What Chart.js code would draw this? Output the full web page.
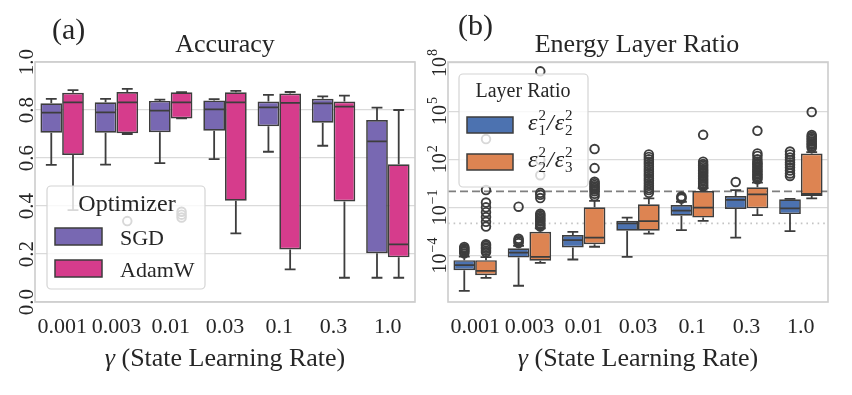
<!DOCTYPE html>
<html>
<head>
<meta charset="utf-8">
<script src="https://cdn.jsdelivr.net/npm/chart.js@4.4.1/dist/chart.umd.min.js"></script>
<style>
  body { margin: 0; background: #fff; width: 852px; height: 395px; position: relative; overflow: hidden; }
  canvas { position: absolute; top: 0; }
</style>
</head>
<body>
<canvas id="accChart" width="426" height="395" style="left:0"></canvas>
<canvas id="energyChart" width="426" height="395" style="left:426px"></canvas>
<script>
// categories
const rates = ["0.001", "0.003", "0.01", "0.03", "0.1", "0.3", "1.0"];

// (a) Accuracy box stats per rate
const sgdLow  = [0.571, 0.572, 0.579, 0.595, 0.626, 0.651, 0.101];
const sgdQ1   = [0.705, 0.705, 0.707, 0.714, 0.732, 0.747, 0.203];
const sgdMed  = [0.789, 0.790, 0.797, 0.803, 0.811, 0.828, 0.669];
const sgdQ3   = [0.828, 0.832, 0.838, 0.840, 0.835, 0.847, 0.758];
const sgdHigh = [0.846, 0.846, 0.843, 0.845, 0.863, 0.857, 0.810];
const sgdOut  = [[], [], [], [], [], [], []];

const adamLow  = [0.383, 0.700, 0.765, 0.286, 0.136, 0.101, 0.101];
const adamQ1   = [0.613, 0.703, 0.765, 0.422, 0.219, 0.419, 0.186];
const adamMed  = [0.832, 0.832, 0.832, 0.832, 0.830, 0.814, 0.240];
const adamQ3   = [0.872, 0.875, 0.874, 0.874, 0.869, 0.835, 0.574];
const adamHigh = [0.883, 0.888, 0.874, 0.880, 0.875, 0.860, 0.800];
const adamOut  = [[], [0.337], [0.352, 0.364, 0.376], [], [], [], []];

const accTicks = [0, 0.2, 0.4, 0.6, 0.8, 1.0];

// (b) Energy layer ratio box stats per rate
const r12Low  = [6.3e-7, 1.3e-6, 5.6e-5, 8.3e-5, 3.8e-3, 1.3e-3, 3.3e-3];
const r12Q1   = [1.2e-5, 7.4e-5, 3.2e-4, 3.5e-3, 3.0e-2, 7.9e-2, 3.8e-2];
const r12Med  = [2.5e-5, 1.5e-4, 9.1e-4, 1.0e-2, 6.2e-2, 0.29, 8.7e-2];
const r12Q3   = [5.1e-5, 2.8e-4, 1.9e-3, 1.45e-2, 0.14, 0.51, 0.32];
const r12High = [8.5e-5, 4.0e-4, 3.0e-3, 2.3e-2, 0.22, 1.2, 0.34];
const r12Out  = [
  [1.35e-4, 1.7e-4, 2.0e-4, 2.4e-4, 2.8e-4, 3.4e-4],
  [6e-4, 7.5e-4, 9e-4, 1.1e-3, 0.11],
  [], [],
  [0.35, 0.42, 0.48],
  [3.8],
  [9, 13, 20, 30, 45, 63, 90, 130, 200, 300]
];

const r23Low  = [4.0e-6, 3.5e-5, 3.5e-4, 2.3e-3, 1.45e-2, 3.3e-2, 0.36];
const r23Q1   = [5.9e-6, 4.7e-5, 5.1e-4, 3.5e-3, 2.3e-2, 8.7e-2, 0.51];
const r23Med  = [1.1e-5, 8.3e-5, 1.3e-3, 1.4e-2, 9.5e-2, 0.65, 0.68];
const r23Q3   = [5.1e-5, 3.0e-3, 0.1, 0.155, 1.05, 1.8, 230];
const r23High = [8.0e-5, 5.0e-3, 0.25, 0.36, 1.6, 3.5, 280];
const r23Out  = [
  [1.6e-4, 2.0e-4, 2.6e-4, 3.2e-4, 4e-4, 5e-4, 6.3e-3, 1.26e-2, 2.5e-2, 5e-2, 0.1, 0.2, 1.2, 1800],
  [6.3e-3, 8e-3, 1e-2, 1.3e-2, 1.6e-2, 2e-2, 2.5e-2, 3.2e-2, 4e-2, 0.38, 0.6, 0.8, 10, 90, 3e7],
  [0.5, 0.7, 1.0, 1.3, 1.6, 2.0, 2.5, 3.2, 4.0, 28, 430],
  [0.8, 1.2, 1.6, 2.2, 3.2, 4.5, 6.3, 9, 12.6, 18, 25, 35, 50, 70, 100, 140, 200],
  [2, 2.5, 3.2, 4, 5, 6.3, 8, 10, 13, 16, 20, 25, 32, 40, 50, 70, 3300],
  [5.6, 7, 9, 11, 14, 18, 22, 28, 36, 45, 56, 70, 100, 160, 230, 5900],
  [500, 650, 800, 1000, 1260, 1600, 2000, 2500, 3200, 87000]
];

const ratioTicks = [1e-4, 1e-1, 1e2, 1e5, 1e8];

const SERIF = "'Liberation Serif', 'Times New Roman', serif";
const TEXT = '#262626';
const EDGE = '#3d3d3d';
const GRID = '#dadada';
const FRAME = '#cccccc';
const SGD_COL = '#7868b2';
const ADAM_COL = '#d63c8c';
const R12_COL = '#4c72b0';
const R23_COL = '#dd8452';

function roundBox(ctx, x, y, w, h, r) {
  ctx.beginPath();
  ctx.moveTo(x + r, y);
  ctx.arcTo(x + w, y, x + w, y + h, r);
  ctx.arcTo(x + w, y + h, x, y + h, r);
  ctx.arcTo(x, y + h, x, y, r);
  ctx.arcTo(x, y, x + w, y, r);
  ctx.closePath();
}

// italic epsilon with stacked sub/superscript, returns the new x
function epsTerm(ctx, x, y, sub, sup) {
  ctx.font = 'italic 24px ' + SERIF;
  ctx.fillText('\u03b5', x, y);
  x += ctx.measureText('\u03b5').width + 1;
  ctx.font = '15px ' + SERIF;
  ctx.fillText(sup, x, y - 10);
  ctx.fillText(sub, x, y + 5);
  return x + ctx.measureText(sup).width;
}

function xTitle(ctx, cx, y) {
  ctx.fillStyle = TEXT;
  ctx.textBaseline = 'alphabetic';
  ctx.textAlign = 'left';
  ctx.font = 'italic 26px ' + SERIF;
  const g = '\u03b3';
  const wg = ctx.measureText(g).width;
  ctx.font = '26px ' + SERIF;
  const rest = ' (State Learning Rate)';
  const wr = ctx.measureText(rest).width;
  const x = cx - (wg + wr) / 2;
  ctx.font = 'italic 26px ' + SERIF;
  ctx.fillText(g, x, y);
  ctx.font = '26px ' + SERIF;
  ctx.fillText(rest, x + wg, y);
}

function boxPlugin(cfg) {
  return {
    id: 'boxes',
    beforeDatasetsDraw(chart) {
      const { ctx, chartArea: a, scales: { y } } = chart;
      (cfg.refLines || []).forEach(r => {
        const py = y.getPixelForValue(r.value);
        ctx.save();
        ctx.strokeStyle = r.color;
        ctx.lineWidth = r.width;
        ctx.setLineDash(r.dash);
        ctx.beginPath();
        ctx.moveTo(a.left, py);
        ctx.lineTo(a.right, py);
        ctx.stroke();
        ctx.restore();
      });
    },
    afterDatasetsDraw(chart) {
      const { ctx, scales: { y } } = chart;
      const py = v => y.getPixelForValue(v);
      cfg.series.forEach((s, di) => {
        chart.getDatasetMeta(di).data.forEach((bar, i) => {
          const x = bar.x, hw = bar.width / 2, cap = bar.width / 4;
          ctx.save();
          ctx.strokeStyle = EDGE;
          ctx.lineWidth = 1.8;
          ctx.beginPath();
          ctx.moveTo(x, py(s.q1[i])); ctx.lineTo(x, py(s.low[i]));
          ctx.moveTo(x - cap, py(s.low[i])); ctx.lineTo(x + cap, py(s.low[i]));
          ctx.moveTo(x, py(s.q3[i])); ctx.lineTo(x, py(s.high[i]));
          ctx.moveTo(x - cap, py(s.high[i])); ctx.lineTo(x + cap, py(s.high[i]));
          ctx.moveTo(x - hw + 1, py(s.med[i])); ctx.lineTo(x + hw - 1, py(s.med[i]));
          ctx.stroke();
          ctx.lineWidth = 1.9;
          s.out[i].forEach(v => {
            ctx.beginPath();
            ctx.arc(x, py(v), 4.3, 0, Math.PI * 2);
            ctx.stroke();
          });
          ctx.restore();
        });
      });
    },
    afterDraw(chart) {
      const { ctx, chartArea: a, scales: { y } } = chart;
      ctx.save();
      ctx.strokeStyle = FRAME;
      ctx.lineWidth = 1.6;
      ctx.strokeRect(a.left, a.top, a.right - a.left, a.bottom - a.top);

      // rotated y tick labels
      ctx.fillStyle = TEXT;
      y.ticks.forEach(t => {
        const py = y.getPixelForValue(t.value);
        ctx.save();
        ctx.translate(cfg.labelX, py);
        ctx.rotate(-Math.PI / 2);
        cfg.tickLabel(ctx, t.value);
        ctx.restore();
      });

      // titles
      ctx.fillStyle = TEXT;
      ctx.textBaseline = 'alphabetic';
      ctx.textAlign = 'center';
      ctx.font = '26px ' + SERIF;
      ctx.fillText(cfg.title, cfg.titleX, 52);
      ctx.textAlign = 'left';
      ctx.font = '30px ' + SERIF;
      ctx.fillText(cfg.panel, cfg.panelX, cfg.panelY);
      xTitle(ctx, (a.left + a.right) / 2, 366);

      cfg.legend(ctx);
      ctx.restore();
    }
  };
}

function floating(lo, hi) {
  return lo.map((v, i) => [v, hi[i]]);
}

function barSet(label, lo, hi, color) {
  return {
    label: label,
    data: floating(lo, hi),
    backgroundColor: color,
    borderColor: EDGE,
    borderWidth: 1.7,
    borderSkipped: false,
    barPercentage: 1,
    categoryPercentage: 0.8
  };
}

function xAxis() {
  return {
    grid: { display: false, drawTicks: false },
    border: { display: false },
    ticks: { font: { family: SERIF, size: 22 }, color: TEXT, padding: 12, maxRotation: 0, autoSkip: false },
    afterFit: s => { s.height = 93; }
  };
}

// (a) Accuracy
new Chart(document.getElementById('accChart'), {
  type: 'bar',
  data: {
    labels: rates,
    datasets: [
      barSet('SGD', sgdQ1, sgdQ3, SGD_COL),
      barSet('AdamW', adamQ1, adamQ3, ADAM_COL)
    ]
  },
  options: {
    responsive: false,
    animation: false,
    layout: { padding: { top: 62, right: 11, left: 0, bottom: 0 } },
    plugins: { legend: { display: false }, tooltip: { enabled: false } },
    scales: {
      x: xAxis(),
      y: {
        min: 0, max: 1,
        afterBuildTicks: s => { s.ticks = accTicks.map(v => ({ value: v })); },
        grid: { color: GRID, lineWidth: 1.2, drawTicks: false },
        border: { display: false },
        ticks: { display: false },
        afterFit: s => { s.width = 35; }
      }
    }
  },
  plugins: [boxPlugin({
    series: [
      { low: sgdLow, q1: sgdQ1, med: sgdMed, q3: sgdQ3, high: sgdHigh, out: sgdOut },
      { low: adamLow, q1: adamQ1, med: adamMed, q3: adamQ3, high: adamHigh, out: adamOut }
    ],
    labelX: 33,
    tickLabel(ctx, v) {
      ctx.font = '21px ' + SERIF;
      ctx.textAlign = 'center';
      ctx.textBaseline = 'alphabetic';
      ctx.fillText(v.toFixed(1), 0, 0);
    },
    title: 'Accuracy', titleX: 225,
    panel: '(a)', panelX: 52, panelY: 39,
    legend(ctx) {
      ctx.fillStyle = 'rgba(255,255,255,0.8)';
      roundBox(ctx, 47, 186, 158, 103, 4);
      ctx.fill();
      ctx.strokeStyle = '#d4d4d4';
      ctx.lineWidth = 1.2;
      ctx.stroke();
      ctx.fillStyle = TEXT;
      ctx.textAlign = 'center';
      ctx.textBaseline = 'alphabetic';
      ctx.font = '24px ' + SERIF;
      ctx.fillText('Optimizer', 127, 211);
      [['SGD', SGD_COL, 228], ['AdamW', ADAM_COL, 260]].forEach(([name, col, top]) => {
        ctx.fillStyle = col;
        ctx.fillRect(55, top, 47, 17);
        ctx.strokeStyle = EDGE;
        ctx.lineWidth = 1.5;
        ctx.strokeRect(55, top, 47, 17);
        ctx.fillStyle = TEXT;
        ctx.textAlign = 'left';
        ctx.font = '22px ' + SERIF;
        ctx.fillText(name, 120, top + 17);
      });
    }
  })]
});

// (b) Energy Layer Ratio
new Chart(document.getElementById('energyChart'), {
  type: 'bar',
  data: {
    labels: rates,
    datasets: [
      barSet('e1/e2', r12Q1, r12Q3, R12_COL),
      barSet('e2/e3', r23Q1, r23Q3, R23_COL)
    ]
  },
  options: {
    responsive: false,
    animation: false,
    layout: { padding: { top: 62, right: 24, left: 0, bottom: 0 } },
    plugins: { legend: { display: false }, tooltip: { enabled: false } },
    scales: {
      x: xAxis(),
      y: {
        type: 'logarithmic',
        min: 1.26e-7, max: 1.15e8,
        afterBuildTicks: s => { s.ticks = ratioTicks.map(v => ({ value: v })); },
        grid: { color: GRID, lineWidth: 1.2, drawTicks: false },
        border: { display: false },
        ticks: { display: false },
        afterFit: s => { s.width = 22; }
      }
    }
  },
  plugins: [boxPlugin({
    series: [
      { low: r12Low, q1: r12Q1, med: r12Med, q3: r12Q3, high: r12High, out: r12Out },
      { low: r23Low, q1: r23Q1, med: r23Med, q3: r23Q3, high: r23High, out: r23Out }
    ],
    refLines: [
      { value: 1, color: '#7f7f7f', width: 1.8, dash: [8, 4] },
      { value: 0.01, color: '#c4c4c4', width: 1.6, dash: [1.6, 4] }
    ],
    labelX: 20,
    tickLabel(ctx, v) {
      const e = Math.round(Math.log10(v));
      const exp = e < 0 ? '\u2212' + (-e) : String(e);
      ctx.textAlign = 'left';
      ctx.textBaseline = 'alphabetic';
      ctx.font = '20px ' + SERIF;
      const w10 = ctx.measureText('10').width;
      ctx.font = '14px ' + SERIF;
      const we = ctx.measureText(exp).width;
      const x0 = -(w10 + we + 1) / 2;
      ctx.font = '20px ' + SERIF;
      ctx.fillText('10', x0, 0);
      ctx.font = '14px ' + SERIF;
      ctx.fillText(exp, x0 + w10 + 1, -9);
    },
    title: 'Energy Layer Ratio', titleX: 211,
    panel: '(b)', panelX: 32, panelY: 35,
    legend(ctx) {
      ctx.fillStyle = 'rgba(255,255,255,0.8)';
      roundBox(ctx, 33, 74, 129, 113, 4);
      ctx.fill();
      ctx.strokeStyle = '#d4d4d4';
      ctx.lineWidth = 1.2;
      ctx.stroke();
      ctx.fillStyle = TEXT;
      ctx.textAlign = 'center';
      ctx.textBaseline = 'alphabetic';
      ctx.font = '20px ' + SERIF;
      ctx.fillText('Layer Ratio', 97, 97);
      [[R12_COL, 117, '1', '2'], [R23_COL, 154, '2', '3']].forEach(([col, top, a, b]) => {
        ctx.fillStyle = col;
        ctx.fillRect(41, top, 46, 16);
        ctx.strokeStyle = EDGE;
        ctx.lineWidth = 1.5;
        ctx.strokeRect(41, top, 46, 16);
        ctx.fillStyle = TEXT;
        ctx.textAlign = 'left';
        let x = epsTerm(ctx, 102, top + 13, a, '2');
        ctx.font = 'italic 24px ' + SERIF;
        ctx.fillText('/', x + 1, top + 13);
        x += ctx.measureText('/').width + 2;
        epsTerm(ctx, x, top + 13, b, '2');
      });
    }
  })]
});
</script>
</body>
</html>
